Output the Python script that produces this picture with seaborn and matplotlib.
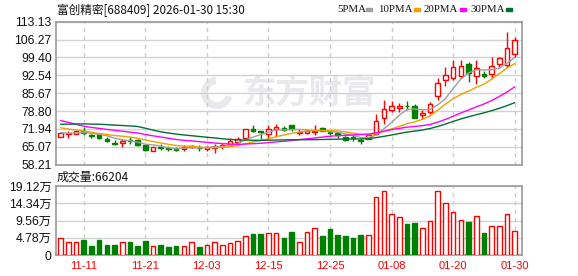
import numpy as np
import pandas as pd
import matplotlib
matplotlib.use("Agg")
import matplotlib.pyplot as plt
import seaborn as sns
from matplotlib.patches import Rectangle, Wedge
from matplotlib.transforms import IdentityTransform

sns.set_theme(style="white")
plt.rcParams['font.family'] = ['Liberation Sans', 'Noto Sans CJK SC']

# ---------------- data ----------------
title_text = "富创精密[688409] 2026-01-30 15:30"
volume_label = "成交量:66204"
watermark_text = "东方财富"

# closes before the visible window (only used for moving averages)
history_close = [68.5, 69.2, 70.1, 71.0, 70.4, 71.5, 72.3, 71.8, 72.0, 72.2,
                 84.0, 86.5, 84.5, 78.0, 76.5, 75.0, 74.0, 73.5, 74.0, 73.0,
                 75.5, 74.8, 74.0, 73.8, 73.4,
                 71.5, 70.0, 70.2, 70.3]

open_p = [69.0, 69.9, 70.1, 71.3, 69.5, 69.9, 68.2, 66.6, 66.5, 67.6,
          67.7, 65.6, 63.6, 65.1, 64.6, 64.3, 64.3, 64.9, 64.7, 64.1,
          64.6, 65.3, 65.9, 66.9, 68.5, 71.8, 71.0, 70.0, 71.8, 72.3,
          73.3, 70.3, 70.4, 70.8, 72.2, 70.6, 70.5, 68.9, 68.7, 67.6,
          68.2, 70.0, 76.3, 79.1, 80.1, 80.9, 80.7, 77.3, 78.3, 84.7,
          90.7, 91.4, 92.4, 96.8, 92.4, 92.9, 92.9, 97.0, 96.5, 100.7]
high_p = [70.8, 71.3, 71.3, 72.8, 70.1, 70.0, 68.8, 67.8, 68.2, 68.8,
          68.2, 66.0, 65.0, 66.1, 65.3, 65.0, 65.6, 65.8, 65.6, 65.4,
          66.1, 66.4, 68.5, 68.8, 72.1, 73.3, 71.3, 73.6, 74.0, 72.9,
          73.5, 71.8, 71.5, 73.4, 72.5, 70.9, 70.9, 69.2, 69.6, 68.3,
          70.0, 77.6, 83.1, 82.7, 81.8, 82.7, 81.6, 79.2, 82.2, 91.4,
          95.8, 98.4, 98.4, 97.5, 98.4, 94.2, 99.7, 99.7, 109.0, 107.4]
low_p = [68.8, 68.6, 69.9, 69.5, 68.5, 67.9, 66.9, 65.6, 65.1, 66.3,
         65.5, 63.4, 63.4, 63.7, 63.6, 63.3, 63.3, 64.5, 63.5, 63.3,
         62.8, 64.3, 65.6, 66.2, 68.2, 70.8, 68.0, 68.2, 68.8, 71.0,
         71.3, 69.6, 70.0, 69.6, 71.0, 69.6, 68.5, 67.5, 67.2, 66.0,
         68.0, 69.6, 73.9, 78.3, 78.6, 79.2, 76.0, 75.6, 77.6, 83.1,
         88.5, 90.7, 91.6, 89.9, 89.1, 91.4, 91.6, 95.8, 95.8, 99.7]
close_p = [70.5, 70.3, 71.0, 70.4, 69.2, 68.6, 67.5, 66.3, 67.3, 67.3,
           65.9, 63.7, 64.9, 64.8, 64.2, 64.0, 65.1, 65.5, 64.5, 65.0,
           65.4, 65.9, 67.2, 68.2, 71.8, 71.0, 70.7, 71.8, 72.7, 71.5,
           71.8, 70.9, 71.1, 71.0, 71.3, 70.3, 69.6, 67.7, 68.4, 67.3,
           69.6, 75.1, 79.6, 80.7, 80.9, 80.6, 76.3, 77.9, 81.5, 89.5,
           92.7, 95.6, 96.2, 93.3, 95.5, 92.4, 96.0, 99.1, 103.1, 106.1]
volume = [46000, 36000, 36000, 41600, 25000, 41600, 27700, 27700, 36000, 36000,
          25000, 38800, 25000, 27700, 22000, 25000, 25000, 35000, 22000, 27700,
          35000, 27700, 33000, 38800, 51700, 58000, 58000, 60500, 60500, 47000,
          63700, 36000, 63700, 74000, 52700, 72000, 55400, 52700, 47000, 55400,
          54500, 160000, 176000, 113000, 105000, 86000, 88700, 74000, 94000, 176000,
          144000, 118000, 97000, 91500, 107000, 61000, 79500, 79500, 113000, 66204]

date_tick_idx = [3, 11, 19, 27, 35, 43, 51, 59]
date_tick_labels = ["11-11", "11-21", "12-03", "12-15", "12-25", "01-08", "01-20", "01-30"]
price_ticks = [58.21, 65.07, 71.94, 78.80, 85.67, 92.54, 99.40, 106.27, 113.13]
price_tick_labels = ["58.21", "65.07", "71.94", "78.80", "85.67", "92.54", "99.40", "106.27", "113.13"]
vol_ticks = [0, 47800, 95600, 143400, 191200]
vol_tick_labels = ["0", "4.78万", "9.56万", "14.34万", "19.12万"]
ma_periods = [5, 10, 20, 30]
ma_names = ["5PMA", "10PMA", "20PMA", "30PMA"]

# ---------------- styles ----------------
ma_colors = ["#a0a0a0", "#f0a000", "#ff00ff", "#007030"]
up_color = "#ff0000"
down_color = "#008000"
frame_color = "#999999"
W, H = 578, 276

o = np.array(open_p); h = np.array(high_p); l = np.array(low_p); c = np.array(close_p)
v = np.array(volume, dtype=float)
n = len(c)
x = np.arange(n)
up = c >= o

full_close = pd.Series(history_close + close_p)
ma_frames = []
for p, name in zip(ma_periods, ma_names):
    ma = full_close.rolling(p).mean().to_numpy()[-n:]
    ma_frames.append(pd.DataFrame({"idx": x, "value": ma, "ma": name}))
ma_df = pd.concat(ma_frames, ignore_index=True)

fig = plt.figure(figsize=(W / 100, H / 100), dpi=100)
fig.patch.set_facecolor("white")
left, right = 56, 522.3
ax = fig.add_axes([left / W, 1 - 164.7 / H, (right - left) / W, 143 / H])
axv = fig.add_axes([left / W, 1 - 255 / H, (right - left) / W, 69 / H])

xlim = (-0.61, 59.99)

# watermark (logo swirl + text)
ax.add_patch(Wedge((217, H - 93), 16, 95, 345, width=7, transform=IdentityTransform(),
                   facecolor="#e9e9ed", edgecolor="none", zorder=0.3))
ax.text(309 / W, 1 - 94 / H, watermark_text, transform=fig.transFigure,
        ha="center", va="center", fontsize=24, fontweight="bold",
        color="#e9e9ed", family=["Noto Sans CJK SC"], zorder=0.3)

# candles
face = np.where(up, "white", down_color)
edge = np.where(up, up_color, down_color)
ax.vlines(x, l, h, colors=edge, linewidth=1, zorder=3)
body_bottom = np.minimum(o, c)
body_h = np.maximum(np.abs(c - o), 0.18)
ax.bar(x, body_h, bottom=body_bottom, width=0.6, color=face, edgecolor=edge,
       linewidth=1, zorder=4)

# moving averages
sns.lineplot(data=ma_df, x="idx", y="value", hue="ma", hue_order=ma_names,
             palette=ma_colors, linewidth=1, legend=False, ax=ax, zorder=5)

ax.set_xlim(*xlim)
ax.set_ylim(price_ticks[0], price_ticks[-1])
ax.set_yticks(price_ticks)
ax.set_yticklabels(price_tick_labels)
ax.set_xticks(date_tick_idx)
ax.set_xticklabels([])
ax.grid(axis="y", color="#d2d2d2", linewidth=1, linestyle="-")
ax.grid(axis="x", color="#cccccc", linewidth=1, linestyle=(0, (3, 3)))
ax.set_axisbelow(True)
ax.set_xlabel(""); ax.set_ylabel("")
ax.tick_params(axis="both", length=0, pad=3, labelsize=8.8, labelcolor="#111111")

# volume
axv.bar(x, v, width=0.6, color=face, edgecolor=edge, linewidth=1, zorder=3)
axv.set_xlim(*xlim)
axv.set_ylim(vol_ticks[0], vol_ticks[-1])
axv.set_yticks(vol_ticks)
axv.set_yticklabels(vol_tick_labels)
axv.set_xticks(date_tick_idx)
axv.set_xticklabels(date_tick_labels)
axv.grid(axis="y", color="#d2d2d2", linewidth=1, linestyle="-")
axv.grid(axis="x", color="#cccccc", linewidth=1, linestyle=(0, (3, 3)))
axv.set_axisbelow(True)
axv.tick_params(axis="y", length=0, pad=3, labelsize=8.8, labelcolor="#111111")
axv.tick_params(axis="x", length=0, pad=4, labelsize=8, labelcolor=up_color)

for a in (ax, axv):
    for s in a.spines.values():
        s.set_color(frame_color)
        s.set_linewidth(1.2)
        s.set_visible(True)

# title and labels
fig.text(57 / W, 1 - 10 / H, title_text, ha="left", va="center", fontsize=8.4,
         family=["Noto Sans CJK SC"], color="#111111")
fig.text(57 / W, 1 - 177 / H, volume_label, ha="left", va="center", fontsize=8.6,
         family=["Noto Sans CJK SC"], color="#111111")

# legend
legend_x = [337, 378.5, 423.5, 470]
marker_x = [366, 414, 460, 506]
for name, col, tx, mx in zip(ma_names, ma_colors, legend_x, marker_x):
    fig.text(tx / W, 1 - 9.5 / H, name, ha="left", va="center", fontsize=7.8,
             family=["Liberation Serif"], color="#111111")
    fig.add_artist(Rectangle((mx / W, 1 - 11 / H), 6 / W, 3 / H,
                             transform=fig.transFigure, color=col))

fig.savefig("out.png", dpi=100)
